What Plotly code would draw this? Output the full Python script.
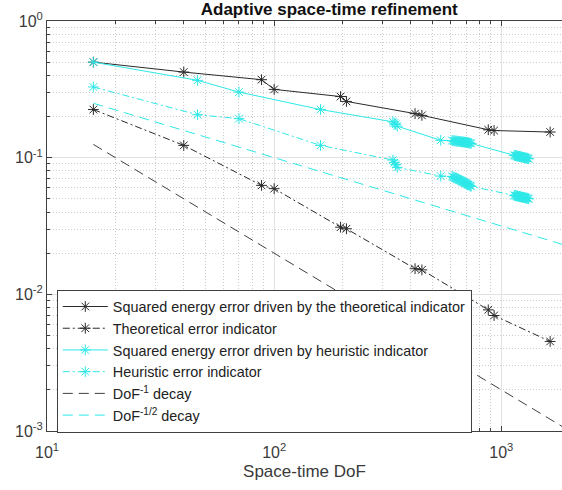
import plotly.graph_objects as go

# ---------------- data ----------------
dof_theo = [16, 40, 88, 100, 196, 208, 417, 447, 876, 929, 1640]
err_theo = [0.50, 0.423, 0.372, 0.316, 0.280, 0.258, 0.210, 0.204, 0.160, 0.158, 0.154]
ind_theo = [0.225, 0.123, 0.0627, 0.0593, 0.0310, 0.0302, 0.0154, 0.0151, 0.0077, 0.0070, 0.00452]

dof_heur = [16, 46, 70, 160, 333, 338, 343, 348, 541,
            607, 613, 620, 626, 633, 639, 646, 653, 660, 667,
            674, 681, 688, 695, 702, 709, 716, 723, 730, 736,
            1140, 1149, 1158, 1167, 1176, 1185, 1194, 1203, 1212, 1221,
            1230, 1240, 1250, 1260, 1270, 1280, 1290, 1300, 1310, 1320]
err_heur = [0.50, 0.368, 0.302, 0.225, 0.183, 0.179, 0.175, 0.170, 0.134,
            0.1335, 0.1332, 0.1329, 0.1326, 0.1323, 0.1320, 0.1317, 0.1314, 0.1311, 0.1308,
            0.1305, 0.1302, 0.1299, 0.1296, 0.1293, 0.1290, 0.1285, 0.1280, 0.1275, 0.1270,
            0.1040, 0.1037, 0.1034, 0.1031, 0.1028, 0.1025, 0.1022, 0.1019, 0.1016, 0.1013,
            0.1010, 0.1007, 0.1004, 0.1001, 0.0998, 0.0995, 0.0992, 0.0989, 0.0985, 0.0980]
ind_heur = [0.329, 0.206, 0.193, 0.123, 0.096, 0.092, 0.089, 0.085, 0.0733,
            0.0730, 0.0724, 0.0718, 0.0712, 0.0706, 0.0700, 0.0694, 0.0688, 0.0682, 0.0676,
            0.0670, 0.0664, 0.0658, 0.0652, 0.0646, 0.0640, 0.0634, 0.0628, 0.0622, 0.0616,
            0.0530, 0.0528, 0.0527, 0.0525, 0.0524, 0.0522, 0.0521, 0.0519, 0.0518, 0.0516,
            0.0515, 0.0513, 0.0512, 0.0510, 0.0509, 0.0507, 0.0506, 0.0504, 0.0502, 0.0500]

dof_ref = [16, 2000]
decay_one = [0.125, 0.001]
decay_half = [0.25, 0.02236]

x_tickvals = [10, 100, 1000]
x_ticktext = ["10<sup>1</sup>", "10<sup>2</sup>", "10<sup>3</sup>"]
y_tickvals = [0.001, 0.01, 0.1, 1]
y_ticktext = ["10<sup>-3</sup>", "10<sup>-2</sup>", "10<sup>-1</sup>", "10<sup>0</sup>"]
x_minor = [20, 30, 40, 50, 60, 70, 80, 90, 200, 300, 400, 500, 600, 700, 800, 900]
y_minor = [0.002, 0.003, 0.004, 0.005, 0.006, 0.007, 0.008, 0.009,
           0.02, 0.03, 0.04, 0.05, 0.06, 0.07, 0.08, 0.09,
           0.2, 0.3, 0.4, 0.5, 0.6, 0.7, 0.8, 0.9]

title_text = "Adaptive space-time refinement"
x_title = "Space-time DoF"
names = ["Squared energy error driven by the theoretical indicator",
         "Theoretical error indicator",
         "Squared energy error driven by heuristic indicator",
         "Heuristic error indicator",
         "DoF<sup>-1</sup> decay",
         "DoF<sup>-1/2</sup> decay"]

# ---------------- styles ----------------
BLACK = "#2a2a2a"
CYAN = "#2ee8e8"
FONT = "Liberation Sans, Arial, sans-serif"
DASHDOT = "7px,3px,2px,3px"
DASH = "10px,6px"

def mk(color):
    return dict(symbol="asterisk-open", size=9, color=color, line=dict(color=color, width=1))

fig = go.Figure()
fig.add_trace(go.Scatter(x=dof_theo, y=err_theo, name=names[0], mode="lines+markers",
                         line=dict(color=BLACK, width=1), marker=mk(BLACK)))
fig.add_trace(go.Scatter(x=dof_theo, y=ind_theo, name=names[1], mode="lines+markers",
                         line=dict(color=BLACK, width=1, dash=DASHDOT), marker=mk(BLACK)))
fig.add_trace(go.Scatter(x=dof_heur, y=err_heur, name=names[2], mode="lines+markers",
                         line=dict(color=CYAN, width=1), marker=mk(CYAN)))
fig.add_trace(go.Scatter(x=dof_heur, y=ind_heur, name=names[3], mode="lines+markers",
                         line=dict(color=CYAN, width=1, dash=DASHDOT), marker=mk(CYAN)))
fig.add_trace(go.Scatter(x=dof_ref, y=decay_one, name=names[4], mode="lines",
                         line=dict(color="#404040", width=1, dash=DASH)))
fig.add_trace(go.Scatter(x=dof_ref, y=decay_half, name=names[5], mode="lines",
                         line=dict(color=CYAN, width=1, dash=DASH)))

axis_common = dict(
    showline=True, linecolor="#404040", linewidth=1,
    ticks="inside", ticklen=5, tickcolor="#404040",
    showgrid=True, gridcolor="#e2e2e2", gridwidth=1,
    zeroline=False,
    tickfont=dict(family=FONT, size=16, color="#3a3a3a"),
)

fig.update_xaxes(type="log", range=[1, 3.267], tickmode="array",
                 tickvals=x_tickvals, ticktext=x_ticktext, mirror="ticks",
                 ticklabelstandoff=7,
                 minor=dict(tickmode="array", tickvals=x_minor, ticks="inside", ticklen=3,
                            tickcolor="#404040", showgrid=True, gridcolor="#cccccc",
                            griddash="1px,2px", gridwidth=1),
                 title=dict(text=x_title, font=dict(family=FONT, size=17, color="#3a3a3a"),
                            standoff=4),
                 **axis_common)
fig.update_yaxes(type="log", range=[-3, 0], tickmode="array",
                 tickvals=y_tickvals, ticktext=y_ticktext, mirror=False,
                 minor=dict(tickmode="array", tickvals=y_minor, ticks="inside", ticklen=3,
                            tickcolor="#404040", showgrid=True, gridcolor="#cccccc",
                            griddash="1px,2px", gridwidth=1),
                 **axis_common)

fig.update_layout(
    width=562, height=490,
    margin=dict(l=47, r=0, t=21, b=59),
    paper_bgcolor="white", plot_bgcolor="white",
    font=dict(family=FONT, color="#222222"),
    title=dict(text="<b>" + title_text + "</b>", x=308 / 562, xref="paper", xanchor="center",
               y=1 - 9 / 490, yref="container", yanchor="middle",
               font=dict(family=FONT, size=17, color="#111111")),
    showlegend=True,
    legend=dict(x=0.019, y=-0.004, xanchor="left", yanchor="bottom",
                bgcolor="white", bordercolor="#404040", borderwidth=1,
                font=dict(family=FONT, size=14.4, color="#222222"),
                itemwidth=45, tracegroupgap=0),
)

fig.write_html("out.html")
